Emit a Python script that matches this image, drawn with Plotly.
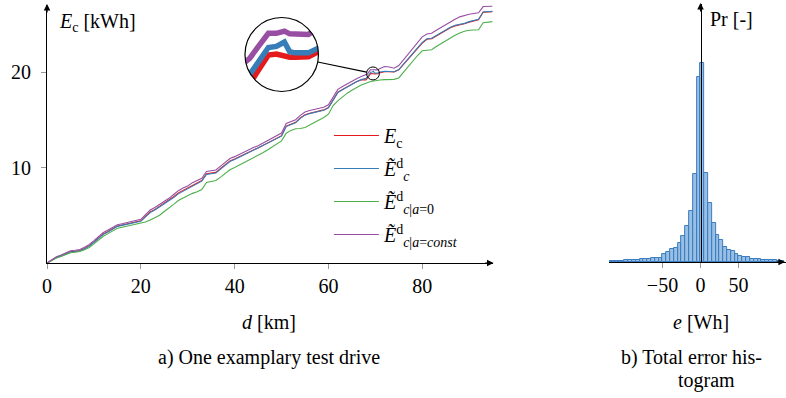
import math
import plotly.graph_objects as go

# ---------------- data ----------------
distance_km = [0, 1, 2, 3, 4, 5, 6, 7, 8, 9,
               10, 11, 12, 13, 14, 15, 16, 17, 18, 19,
               20, 21, 22, 23, 24, 25, 26, 27, 28, 29,
               30, 31, 32, 33, 34, 35, 36, 37, 38, 39,
               40, 41, 42, 43, 44, 45, 46, 47, 48, 49,
               50, 51, 52, 53, 54, 55, 56, 57, 58, 59,
               60, 61, 62, 63, 64, 65, 66, 67, 68,
               68.3, 68.6, 69.0, 69.3, 69.6, 69.8, 70.0, 70.5,
               71, 72, 73, 74, 75, 76, 77, 78, 79,
               80, 81, 82, 83, 84, 85, 86, 87, 88, 89,
               90, 91, 92, 93, 94, 95]

E_c = [0.00, 0.30, 0.58, 0.75, 1.00, 1.18, 1.22, 1.30, 1.52, 1.80,
       2.20, 2.65, 3.05, 3.30, 3.62, 3.88, 3.98, 4.08, 4.18, 4.30,
       4.42, 4.90, 5.35, 5.62, 5.95, 6.20, 6.55, 6.95, 7.35, 7.62,
       7.85, 8.20, 8.45, 8.65, 9.35, 9.45, 9.50, 9.90, 10.30, 10.70,
       10.90, 11.15, 11.40, 11.60, 11.85, 12.05, 12.30, 12.55, 12.80, 13.05,
       13.35, 14.35, 14.55, 14.75, 15.20, 15.55, 15.70, 15.80, 15.90, 16.05,
       16.30, 17.10, 17.90, 18.20, 18.50, 18.75, 19.00, 19.20, 19.20,
       19.33, 19.56, 19.86, 19.88, 19.84, 19.82, 19.82, 19.83,
       19.95, 20.05, 20.05, 20.02, 20.25, 20.80, 21.40, 22.00, 22.55,
       23.05, 23.45, 23.52, 23.80, 24.10, 24.35, 24.65, 24.85, 24.95, 25.08,
       25.25, 25.40, 25.50, 26.30, 26.33, 26.35]

E_c_d = [0.00, 0.28, 0.57, 0.73, 0.98, 1.16, 1.20, 1.28, 1.49, 1.77,
         2.17, 2.60, 3.00, 3.26, 3.58, 3.84, 3.94, 4.03, 4.13, 4.25,
         4.37, 4.84, 5.28, 5.55, 5.88, 6.12, 6.46, 6.86, 7.25, 7.52,
         7.76, 8.12, 8.38, 8.58, 9.28, 9.39, 9.44, 9.84, 10.24, 10.64,
         10.85, 11.10, 11.35, 11.56, 11.80, 12.01, 12.26, 12.51, 12.76, 13.01,
         13.30, 14.30, 14.51, 14.71, 15.16, 15.50, 15.66, 15.76, 15.86, 16.01,
         16.26, 17.05, 17.86, 18.17, 18.47, 18.74, 19.00, 19.22, 19.35,
         19.50, 19.72, 20.00, 20.02, 20.10, 19.92, 19.90, 19.90,
         20.02, 20.10, 20.08, 20.05, 20.28, 20.85, 21.45, 22.05, 22.62,
         23.12, 23.50, 23.56, 23.84, 24.15, 24.42, 24.72, 24.92, 25.02, 25.12,
         25.30, 25.45, 25.55, 26.32, 26.35, 26.38]

E_c_d_a0 = [0.00, 0.28, 0.52, 0.68, 0.90, 1.08, 1.12, 1.20, 1.38, 1.62,
            2.00, 2.42, 2.80, 3.08, 3.38, 3.64, 3.75, 3.85, 3.95, 4.05,
            4.15, 4.30, 4.50, 4.72, 5.00, 5.40, 5.75, 6.15, 6.55, 6.82,
            7.05, 7.30, 7.47, 7.70, 8.45, 8.55, 8.65, 9.00, 9.40, 9.78,
            10.00, 10.25, 10.50, 10.75, 11.00, 11.25, 11.55, 11.85, 12.15, 12.45,
            12.80, 13.60, 13.90, 14.08, 14.10, 14.20, 14.45, 14.75, 15.00, 15.25,
            15.60, 16.50, 17.00, 17.40, 17.80, 18.10, 18.40, 18.65, 18.85,
            18.92, 18.98, 19.02, 19.05, 19.08, 19.10, 19.12, 19.15,
            19.18, 19.22, 19.25, 19.25, 19.40, 20.00, 20.55, 21.15, 21.75,
            22.25, 22.32, 22.35, 22.70, 23.00, 23.30, 23.60, 23.88, 24.10, 24.30,
            24.40, 24.42, 24.45, 25.18, 25.25, 25.30]

E_c_d_aconst = [0.00, 0.35, 0.65, 0.85, 1.10, 1.28, 1.33, 1.42, 1.65, 1.95,
                2.35, 2.80, 3.20, 3.45, 3.78, 4.02, 4.12, 4.22, 4.32, 4.45,
                4.58, 5.08, 5.55, 5.82, 6.15, 6.40, 6.78, 7.18, 7.58, 7.85,
                8.08, 8.42, 8.68, 8.88, 9.60, 9.70, 9.75, 10.15, 10.55, 10.95,
                11.15, 11.40, 11.65, 11.85, 12.10, 12.30, 12.55, 12.80, 13.05, 13.30,
                13.62, 14.62, 14.82, 15.02, 15.48, 15.82, 15.98, 16.08, 16.18, 16.33,
                16.58, 17.40, 18.20, 18.50, 18.80, 19.05, 19.32, 19.55, 19.68,
                19.80, 20.00, 20.26, 20.26, 20.30, 20.25, 20.24, 20.24,
                20.40, 20.60, 20.55, 20.42, 20.70, 21.30, 21.95, 22.55, 23.15,
                23.70, 24.00, 24.08, 24.40, 24.70, 25.00, 25.25, 25.55, 25.80, 25.98,
                26.08, 26.15, 26.22, 26.88, 26.90, 26.92]

series_names = ["<i>E</i><sub>c</sub>",
                "<i>Ẽ</i><sup>d</sup><sub><i>c</i></sub>",
                "<i>Ẽ</i><sup>d</sup><sub><i>c</i>|<i>a</i>=0</sub>",
                "<i>Ẽ</i><sup>d</sup><sub><i>c</i>|<i>a</i>=<i>const</i></sub>"]
series_colors = ["#e41a1c", "#377eb8", "#4daf4a", "#984ea3"]

# error histogram: left bin edges [Wh] (5 Wh bins) and probabilities
hist_left_edges = [-120, -115, -110, -105, -100, -95, -90, -85, -80, -75,
                   -70, -65, -60, -55, -50, -45, -40, -35, -30, -25,
                   -20, -15, -10, -5, 0, 5, 10, 15, 20, 25,
                   30, 35, 40, 45, 50, 55, 60, 65, 70, 75,
                   80, 85, 90, 95, 100, 105]
hist_pr = [0.0006, 0.0008, 0.0010, 0.0014, 0.0017, 0.0020, 0.0023, 0.0025, 0.0030, 0.0033,
           0.0035, 0.0040, 0.0043, 0.0045, 0.0077, 0.0103, 0.0135, 0.0145, 0.0195, 0.0263,
           0.0365, 0.0509, 0.0877, 0.1847, 0.1987, 0.0893, 0.0590, 0.0390, 0.0275, 0.0225,
           0.0155, 0.0125, 0.0112, 0.0078, 0.0065, 0.0052, 0.0046, 0.0035, 0.0028, 0.0027,
           0.0022, 0.0018, 0.0022, 0.0018, 0.0011, 0.0008]
hist_bin_width = 5

x_ticks_a = [0, 20, 40, 60, 80]
y_ticks_a = [10, 20]
x_ticks_b = [-50, 0, 50]

# ---------------- layout geometry (pixels) ----------------
W, H = 786, 398
FONT = "Liberation Serif, Times New Roman, serif"
FS = 20


def pxx(p):
    return p / W


def pxy(p):
    return 1 - p / H


A_X0, A_X1, A_Y0, A_Y1 = 42.3, 490.7, 263.0, 5.0
A_XR = [0, 95]
A_YR = [0, (A_Y0 - A_Y1) / 9.54]
B_X0, B_X1, B_Y0, B_Y1 = 608.0, 786.0, 262.0, 4.0
B_ZERO_PX = 700.0
B_SCALE = 0.766
B_XR = [(B_X0 - B_ZERO_PX) / B_SCALE, (B_X1 - B_ZERO_PX) / B_SCALE]
B_YR = [0, 0.258]

kx = (A_X1 - A_X0) / (A_XR[1] - A_XR[0])
ky = (A_Y0 - A_Y1) / (A_YR[1] - A_YR[0])

zoom_center = (69.5, 19.87)
small_r_px = 6.5
big_c_px = (278.5, 54.5)
big_r_px = 37.0
mag = big_r_px / small_r_px
zrx = big_r_px / (kx * mag)
zry = big_r_px / (ky * mag)

fig = go.Figure()

all_series = [E_c, E_c_d, E_c_d_a0, E_c_d_aconst]
for i, (vals, name, col) in enumerate(zip(all_series, series_names, series_colors)):
    fig.add_trace(go.Scatter(x=distance_km, y=vals, mode="lines", name=name,
                             line=dict(color=col, width=1.1),
                             legendgroup=f"g{i}",
                             xaxis="x", yaxis="y"))

# inset (magnified) traces
for i in [0, 1, 3]:
    fig.add_trace(go.Scatter(x=distance_km, y=all_series[i], mode="lines",
                             line=dict(color=series_colors[i], width=5.5),
                             showlegend=False, hoverinfo="skip",
                             xaxis="x3", yaxis="y3"))

# histogram
bin_centers = [e + hist_bin_width / 2 for e in hist_left_edges]
fig.add_trace(go.Bar(x=bin_centers, y=hist_pr, width=hist_bin_width,
                     marker=dict(color="rgba(120,170,220,0.75)",
                                 line=dict(color="#3b7dbf", width=1)),
                     showlegend=False, xaxis="x2", yaxis="y2"))

tick_col = "#9a9a9a"
axis_common = dict(showgrid=False, zeroline=False, showline=True,
                   linecolor="black", linewidth=1.2,
                   ticks="outside", ticklen=5, tickcolor=tick_col, tickwidth=1,
                   tickfont=dict(family=FONT, size=FS, color="black"))
# inward half of the crossing tick marks (overlay axes, no labels/lines)
inner_ticks = dict(showgrid=False, zeroline=False, showline=False,
                   ticks="inside", ticklen=5, tickcolor=tick_col, tickwidth=1,
                   showticklabels=False)

fig.update_layout(
    width=W, height=H,
    margin=dict(l=0, r=0, t=0, b=0),
    paper_bgcolor="white", plot_bgcolor="rgba(0,0,0,0)",
    font=dict(family=FONT, size=FS, color="black"),
    xaxis=dict(domain=[pxx(A_X0), pxx(A_X1)], range=A_XR, anchor="y",
               tickvals=x_ticks_a, **axis_common),
    yaxis=dict(domain=[pxy(A_Y0), pxy(A_Y1)], range=A_YR, anchor="x",
               tickvals=y_ticks_a, ticklabelstandoff=6, **axis_common),
    xaxis4=dict(overlaying="x", anchor="y", range=A_XR, tickvals=x_ticks_a, **inner_ticks),
    yaxis4=dict(overlaying="y", anchor="x", range=A_YR, tickvals=y_ticks_a, **inner_ticks),
    xaxis2=dict(domain=[pxx(B_X0), pxx(B_X1)], range=B_XR, anchor="y2",
                tickvals=x_ticks_b, **axis_common),
    xaxis5=dict(overlaying="x2", anchor="y2", range=B_XR, tickvals=x_ticks_b, **inner_ticks),
    yaxis2=dict(domain=[pxy(B_Y0), pxy(B_Y1)], range=B_YR, anchor="free",
                position=pxx(B_ZERO_PX), showgrid=False, zeroline=False,
                showline=True, linecolor="black", linewidth=1.2,
                showticklabels=False, ticks=""),
    xaxis3=dict(domain=[pxx(big_c_px[0] - big_r_px), pxx(big_c_px[0] + big_r_px)],
                range=[zoom_center[0] - zrx, zoom_center[0] + zrx],
                anchor="y3", visible=False),
    yaxis3=dict(domain=[pxy(big_c_px[1] + big_r_px), pxy(big_c_px[1] - big_r_px)],
                range=[zoom_center[1] - zry, zoom_center[1] + zry],
                anchor="x3", visible=False),
    bargap=0,
    legend=dict(x=pxx(326), y=pxy(116), xanchor="left", yanchor="top",
                bgcolor="rgba(0,0,0,0)", font=dict(family=FONT, size=FS),
                itemwidth=45, tracegroupgap=4),
)

# ---- inset mask (white outside the circle), circle outlines, connector ----
n = 90
sq = 3
path = (f"M{pxx(big_c_px[0]-big_r_px-sq)},{pxy(big_c_px[1]-big_r_px-sq)} "
        f"L{pxx(big_c_px[0]+big_r_px+sq)},{pxy(big_c_px[1]-big_r_px-sq)} "
        f"L{pxx(big_c_px[0]+big_r_px+sq)},{pxy(big_c_px[1]+big_r_px+sq)} "
        f"L{pxx(big_c_px[0]-big_r_px-sq)},{pxy(big_c_px[1]+big_r_px+sq)} Z ")
pts = []
for k in range(n):
    t = 2 * math.pi * k / n
    pts.append((pxx(big_c_px[0] + big_r_px * math.cos(t)),
                pxy(big_c_px[1] + big_r_px * math.sin(t))))
path += "M" + " L".join(f"{a},{b}" for a, b in pts) + " Z"
fig.add_shape(type="path", path=path, xref="paper", yref="paper",
              fillcolor="white", line=dict(width=0), fillrule="evenodd",
              layer="above")
fig.add_shape(type="circle", xref="paper", yref="paper",
              x0=pxx(big_c_px[0] - big_r_px), x1=pxx(big_c_px[0] + big_r_px),
              y0=pxy(big_c_px[1] + big_r_px), y1=pxy(big_c_px[1] - big_r_px),
              line=dict(color="black", width=1.2), layer="above")
zr_x = small_r_px / kx
zr_y = small_r_px / ky
fig.add_shape(type="circle", xref="x", yref="y",
              x0=zoom_center[0] - zr_x, x1=zoom_center[0] + zr_x,
              y0=zoom_center[1] - zr_y, y1=zoom_center[1] + zr_y,
              line=dict(color="black", width=1), layer="above")
sc = (A_X0 + zoom_center[0] * kx, A_Y0 - zoom_center[1] * ky)
dx, dy = big_c_px[0] - sc[0], big_c_px[1] - sc[1]
L = math.hypot(dx, dy)
ux, uy = dx / L, dy / L
fig.add_shape(type="line", xref="paper", yref="paper",
              x0=pxx(sc[0] + small_r_px * ux), y0=pxy(sc[1] + small_r_px * uy),
              x1=pxx(big_c_px[0] - big_r_px * ux), y1=pxy(big_c_px[1] - big_r_px * uy),
              line=dict(color="black", width=1.1), layer="above")

# ---- axis arrowheads ----
def arrow(xp, yp, ax, ay):
    fig.add_annotation(x=pxx(xp), y=pxy(yp), xref="paper", yref="paper",
                       ax=ax, ay=ay, text="", showarrow=True,
                       arrowhead=2, arrowsize=1.1, arrowwidth=1.2, arrowcolor="black")

arrow(A_X1 + 1, A_Y0, -10, 0)
arrow(A_X0, A_Y1 - 1, 0, 10)
arrow(B_X1 - 1, B_Y0, -10, 0)
arrow(B_ZERO_PX, B_Y1 - 1, 0, 10)

# ---- texts ----
def text(s, xp, yp, xanchor="center", yanchor="middle"):
    fig.add_annotation(x=pxx(xp), y=pxy(yp), xref="paper", yref="paper",
                       text=s, showarrow=False, xanchor=xanchor, yanchor=yanchor,
                       font=dict(family=FONT, size=FS, color="black"))

text("<i>E</i><sub>c</sub> [kWh]", 52, 22, xanchor="left")
text("Pr [-]", 707, 19, xanchor="left")
text("<i>d</i> [km]", 266, 322)
text("<i>e</i> [Wh]", 700, 322)
text("a) One examplary test drive", 266, 357)
text("b) Total error his-", 691, 357)
text("togram", 706, 380)

fig.write_html("out.html")
